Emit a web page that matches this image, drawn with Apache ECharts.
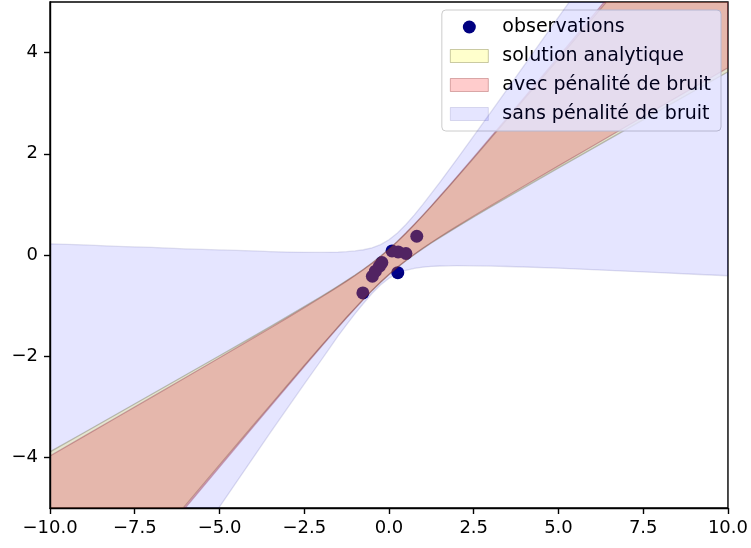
<!DOCTYPE html>
<html>
<head>
<meta charset="utf-8">
<script src="https://cdn.jsdelivr.net/npm/echarts@6/dist/echarts.min.js"></script>
<style>
html,body{margin:0;padding:0;background:#fff;}
#chart{width:751px;height:548px;}
</style>
</head>
<body>
<div id="chart"></div>
<script>
// ---- data ----
const xs = [-10,-9,-8,-7,-6,-5,-4,-3.5,-3,-2.5,-2,-1.75,-1.5,-1.25,-1,-0.75,-0.5,-0.25,0,0.25,0.5,0.75,1,1.25,1.5,1.75,2,2.5,3,3.5,4,5,6,7,8,9,10];

const yellowUp = [-3.890,-3.512,-3.133,-2.753,-2.372,-1.991,-1.607,-1.413,-1.218,-1.021,-0.820,-0.718,-0.613,-0.506,-0.396,-0.280,-0.157,-0.026,0.115,0.267,0.430,0.601,0.779,0.961,1.148,1.337,1.528,1.914,2.304,2.696,3.089,3.879,4.672,5.465,6.260,7.055,7.850];
const yellowLo = [-8.120,-7.325,-6.530,-5.735,-4.942,-4.149,-3.359,-2.966,-2.574,-2.184,-1.798,-1.607,-1.418,-1.231,-1.049,-0.871,-0.700,-0.537,-0.385,-0.244,-0.113,0.010,0.126,0.236,0.343,0.448,0.550,0.751,0.948,1.143,1.337,1.721,2.102,2.483,2.863,3.242,3.620];

const redUp = [-3.970,-3.584,-3.197,-2.809,-2.420,-2.031,-1.639,-1.441,-1.242,-1.041,-0.836,-0.732,-0.625,-0.516,-0.404,-0.286,-0.161,-0.028,0.115,0.269,0.434,0.607,0.787,0.971,1.160,1.351,1.544,1.934,2.328,2.724,3.121,3.919,4.720,5.521,6.324,7.127,7.930];
const redLo = [-8.200,-7.397,-6.594,-5.791,-4.990,-4.189,-3.391,-2.994,-2.598,-2.204,-1.814,-1.621,-1.430,-1.241,-1.057,-0.877,-0.704,-0.539,-0.385,-0.242,-0.109,0.016,0.134,0.246,0.355,0.462,0.566,0.771,0.972,1.171,1.369,1.761,2.150,2.539,2.927,3.314,3.700];

const blueUp = [0.22,0.20,0.17,0.15,0.12,0.10,0.08,0.066,0.058,0.053,0.051,0.053,0.057,0.066,0.080,0.104,0.142,0.204,0.300,0.434,0.602,0.794,1.000,1.216,1.437,1.663,1.891,2.353,2.818,3.287,3.757,4.699,5.645,6.591,7.538,8.486,9.435];
const blueLo = [-9.80,-8.83,-7.87,-6.90,-5.94,-4.98,-4.00,-3.51,-3.03,-2.55,-2.08,-1.84,-1.60,-1.376,-1.16,-0.954,-0.762,-0.594,-0.460,-0.364,-0.302,-0.264,-0.240,-0.226,-0.217,-0.213,-0.211,-0.213,-0.218,-0.227,-0.237,-0.26,-0.29,-0.32,-0.35,-0.38,-0.41];

const obsX = [-0.77,-0.49,-0.40,-0.28,-0.21,0.09,0.27,0.50,0.82,0.26];
const obsY = [-0.75,-0.42,-0.32,-0.22,-0.15,0.08,0.06,0.03,0.37,-0.35];

const xTicks = [-10,-7.5,-5,-2.5,0,2.5,5,7.5,10];
const yTicks = [-4,-2,0,2,4];

const names = ['observations','solution analytique','avec pénalité de bruit','sans pénalité de bruit'];

// ---- styles ----
const C_OBS = '#000080';
const C_YEL = 'rgba(255,255,0,0.2)';
const C_RED = 'rgba(255,0,0,0.2)';
const C_BLU = 'rgba(0,0,255,0.1)';
const E_YEL = 'rgba(90,90,20,0.32)';
const E_RED = 'rgba(130,20,20,0.3)';
const E_BLU = 'rgba(20,20,120,0.13)';

function fmt(v, d) {
  const s = Math.abs(v).toFixed(d);
  return (v < 0 ? '\u2212' : '') + s;
}

function bandSeries(name, lo, hi, color, edge, z) {
  return {
    type: 'custom',
    name: name,
    z: z,
    clip: true,
    silent: true,
    itemStyle: { color: color },
    data: xs.map((x, i) => [x, lo[i], hi[i]]),
    encode: { x: 0, y: [1, 2] },
    renderItem: function (params, api) {
      if (params.dataIndex !== 0) return null;
      const pts = [];
      for (let i = 0; i < xs.length; i++) pts.push(api.coord([xs[i], hi[i]]));
      for (let i = xs.length - 1; i >= 0; i--) pts.push(api.coord([xs[i], lo[i]]));
      return {
        type: 'polygon',
        shape: { points: pts },
        style: { fill: color, stroke: edge, lineWidth: 1.3 }
      };
    }
  };
}

const chart = echarts.init(document.getElementById('chart'), null, { renderer: 'canvas' });

const axisCommon = {
  axisLine: { show: true, onZero: false, lineStyle: { color: '#000', width: 1.4 } },
  axisTick: { show: true, length: 6, lineStyle: { color: '#000', width: 1.4 } },
  splitLine: { show: false },
  axisLabel: { color: '#000', fontSize: 18, fontFamily: 'DejaVu Sans' }
};

chart.setOption({
  animation: false,
  backgroundColor: '#fff',
  grid: { left: 50, right: 21, top: 2, bottom: 40, show: true, borderColor: '#000', borderWidth: 1.4, backgroundColor: 'transparent' },
  xAxis: {
    type: 'value', min: -10, max: 10, interval: 2.5, z: 10,
    axisLine: axisCommon.axisLine,
    axisTick: Object.assign({ customValues: xTicks }, axisCommon.axisTick),
    splitLine: axisCommon.splitLine,
    axisLabel: Object.assign({ customValues: xTicks, margin: 11, formatter: v => fmt(v, 1) }, axisCommon.axisLabel)
  },
  yAxis: {
    type: 'value', min: -5, max: 5, z: 10,
    axisLine: axisCommon.axisLine,
    axisTick: Object.assign({ customValues: yTicks }, axisCommon.axisTick),
    splitLine: axisCommon.splitLine,
    axisLabel: Object.assign({ customValues: yTicks, margin: 12, formatter: v => fmt(v, 0) }, axisCommon.axisLabel)
  },
  legend: {
    orient: 'vertical',
    right: 30,
    top: 10,
    padding: [7, 10, 7, 8],
    itemGap: 9,
    itemWidth: 38,
    itemHeight: 13,
    backgroundColor: 'rgba(255,255,255,0.8)',
    borderColor: '#cccccc',
    borderWidth: 1,
    borderRadius: 4,
    selectedMode: false,
    textStyle: { fontSize: 19, fontFamily: 'DejaVu Sans', color: '#000', lineHeight: 20, padding: [0, 0, 0, 9] },
    data: [
      { name: names[0], icon: 'circle', itemStyle: { color: C_OBS } },
      { name: names[1], icon: 'rect', itemStyle: { color: C_YEL, borderColor: E_YEL, borderWidth: 1 } },
      { name: names[2], icon: 'rect', itemStyle: { color: C_RED, borderColor: E_RED, borderWidth: 1 } },
      { name: names[3], icon: 'rect', itemStyle: { color: C_BLU, borderColor: E_BLU, borderWidth: 1 } }
    ]
  },
  series: [
    {
      type: 'scatter',
      name: names[0],
      z: 1,
      symbolSize: 13,
      itemStyle: { color: C_OBS, opacity: 1 },
      data: obsX.map((x, i) => [x, obsY[i]])
    },
    bandSeries(names[1], yellowLo, yellowUp, C_YEL, E_YEL, 2),
    bandSeries(names[2], redLo, redUp, C_RED, E_RED, 3),
    bandSeries(names[3], blueLo, blueUp, C_BLU, E_BLU, 4)
  ]
});
</script>
</body>
</html>
